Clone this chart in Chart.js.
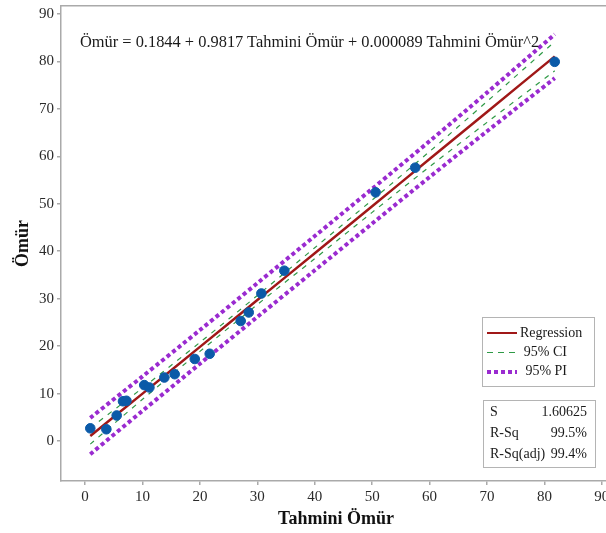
<!DOCTYPE html>
<html>
<head>
<meta charset="utf-8">
<script src="https://cdn.jsdelivr.net/npm/chart.js@4.4.0/dist/chart.umd.min.js"></script>
<style>
  body { margin: 0; overflow: hidden; background: #fff; }
  #wrap { position: relative; width: 620px; height: 533px; }
  .txt { position: absolute; font-family: "Liberation Serif", "Times New Roman", serif; color: #1a1a1a; white-space: nowrap; }
  .box { position: absolute; border: 1.5px solid #b4b4b4; background: #fff; box-sizing: border-box; }
  .swatch { position: absolute; }
</style>
</head>
<body>
<div id="wrap">
  <canvas id="fitPlot"></canvas>
  <div class="txt" id="equation" style="left:80px; top:32px; font-size:16.4px;">Ömür = 0.1844 + 0.9817 Tahmini Ömür + 0.000089 Tahmini Ömür^2</div>

  <div class="box" style="left:482px; top:317px; width:113px; height:70px;"></div>
  <div class="swatch" style="left:487px; top:332px; width:30px; height:2px; background:#a01818;"></div>
  <div class="swatch" style="left:487px; top:352px; width:30px; height:1px; background:repeating-linear-gradient(to right, #2f9a46 0 6px, transparent 6px 11px);"></div>
  <div class="swatch" style="left:487px; top:370px; width:30px; height:4px; background:repeating-linear-gradient(to right, #9a2bd0 0 4px, transparent 4px 7px);"></div>
  <div class="txt" style="left:520px; top:325px; font-size:14px;">Regression</div>
  <div class="txt" style="right:53px; top:344px; font-size:14px;">95% CI</div>
  <div class="txt" style="right:53px; top:363px; font-size:14px;">95% PI</div>

  <div class="box" style="left:483px; top:400px; width:113px; height:68px;"></div>
  <div class="txt" style="left:490px; top:404px; font-size:14px;">S</div>
  <div class="txt" style="left:490px; top:425px; font-size:14px;">R-Sq</div>
  <div class="txt" style="left:490px; top:446px; font-size:14px;">R-Sq(adj)</div>
  <div class="txt" style="right:33px; top:404px; font-size:14px;">1.60625</div>
  <div class="txt" style="right:33px; top:425px; font-size:14px;">99.5%</div>
  <div class="txt" style="right:33px; top:446px; font-size:14px;">99.4%</div>
</div>
<script>
// gozlemler (noktalar)
const tahmini = [0.9, 3.7, 5.5, 6.6, 7.2, 10.3, 11.2, 13.8, 15.6, 19.1, 21.7, 27.1, 28.5, 30.7, 34.7, 50.6, 57.5, 81.8];
const omur    = [2.7, 2.5, 5.4, 8.4, 8.5, 11.8, 11.3, 13.4, 14.1, 17.3, 18.4, 25.3, 27.1, 31.1, 35.9, 52.4, 57.6, 79.9];

// regresyon egrisi ve bantlar
const fitX    = [0.9, 10, 20, 30, 40, 50, 60, 70, 81.8];
const fitY    = [1.07, 10.01, 19.85, 29.72, 39.59, 49.49, 59.41, 69.34, 81.05];
const ciUpper = [2.77, 11.21, 20.8, 30.67, 40.74, 50.79, 61.01, 71.54, 84.15];
const ciLower = [-0.63, 8.81, 18.9, 28.77, 38.44, 48.19, 57.81, 67.14, 78.0];
const piUpper = [4.89, 13.64, 23.4, 33.27, 43.2, 53.15, 63.19, 73.41, 85.7];
const piLower = [-2.75, 6.38, 16.3, 26.17, 35.98, 45.83, 55.63, 65.27, 76.45];

const xTicks = [0, 10, 20, 30, 40, 50, 60, 70, 80, 90];
const yTicks = [0, 10, 20, 30, 40, 50, 60, 70, 80, 90];

const toXY = (xs, ys) => xs.map((x, i) => ({ x: x, y: ys[i] }));
const serif = '"Liberation Serif", "Times New Roman", serif';
const frameColor = '#aaaaaa';

// ust cerceve cizgisi
const topFrame = {
    id: 'topFrame',
    afterDraw(chart) {
        const a = chart.chartArea, ctx = chart.ctx;
        ctx.save();
        ctx.strokeStyle = frameColor;
        ctx.lineWidth = 1.5;
        ctx.beginPath();
        ctx.moveTo(a.left, a.top);
        ctx.lineTo(a.right, a.top);
        ctx.stroke();
        ctx.restore();
    }
};

const bandLine = (label, ys, color, width, dash) => ({
    type: 'scatter',
    label: label,
    data: toXY(fitX, ys),
    showLine: true,
    borderColor: color,
    borderWidth: width,
    borderDash: dash,
    pointRadius: 0,
    tension: 0.3,
    fill: false
});

const ctx = document.getElementById('fitPlot').getContext('2d');
new Chart(ctx, {
    type: 'scatter',
    data: {
        datasets: [
            {
                label: 'Ömür',
                data: toXY(tahmini, omur),
                backgroundColor: '#0b5aa8',
                borderColor: '#0b5aa8',
                pointRadius: 4.8,
                order: 0
            },
            Object.assign(bandLine('Regression', fitY, '#a01818', 2.5, []), { order: 1 }),
            Object.assign(bandLine('95% CI', ciUpper, '#2f9a46', 1.2, [5, 6]), { order: 2 }),
            Object.assign(bandLine('95% CI', ciLower, '#2f9a46', 1.2, [5, 6]), { order: 2 }),
            Object.assign(bandLine('95% PI', piUpper, '#9a2bd0', 4, [4, 3]), { order: 3 }),
            Object.assign(bandLine('95% PI', piLower, '#9a2bd0', 4, [4, 3]), { order: 3 })
        ]
    },
    options: {
        responsive: true,
        maintainAspectRatio: false,
        animation: false,
        layout: { padding: { top: 5, right: 9, left: 0, bottom: 0 } },
        plugins: {
            legend: { display: false },
            tooltip: { enabled: false }
        },
        scales: {
            x: {
                type: 'linear',
                min: -4.2,
                max: 91.6,
                afterFit: s => { s.height = 52; s.paddingLeft = 0; s.paddingRight = 0; },
                afterBuildTicks: s => { s.ticks = xTicks.map(v => ({ value: v })); },
                ticks: { font: { family: serif, size: 15 }, color: '#2a2a2a', padding: 3, maxRotation: 0, autoSkip: false },
                grid: { drawOnChartArea: false, drawTicks: true, tickLength: 4, color: frameColor, lineWidth: 1.5 },
                border: { color: frameColor, width: 1.5 },
                title: { display: true, text: 'Tahmini Ömür', font: { family: serif, size: 18, weight: 'bold' }, color: '#111', padding: { top: 0, bottom: 3 } }
            },
            y: {
                type: 'linear',
                min: -8.4,
                max: 91.7,
                afterFit: s => { s.width = 61; s.paddingTop = 0; s.paddingBottom = 0; },
                afterBuildTicks: s => { s.ticks = yTicks.map(v => ({ value: v })); },
                ticks: { font: { family: serif, size: 15 }, color: '#2a2a2a', padding: 3, autoSkip: false },
                grid: { drawOnChartArea: false, drawTicks: true, tickLength: 4, color: frameColor, lineWidth: 1.5 },
                border: { color: frameColor, width: 1.5 },
                title: { display: true, text: 'Ömür', font: { family: serif, size: 18, weight: 'bold' }, color: '#111', padding: { top: 13, bottom: 0 } }
            }
        }
    },
    plugins: [topFrame]
});
</script>
</body>
</html>
